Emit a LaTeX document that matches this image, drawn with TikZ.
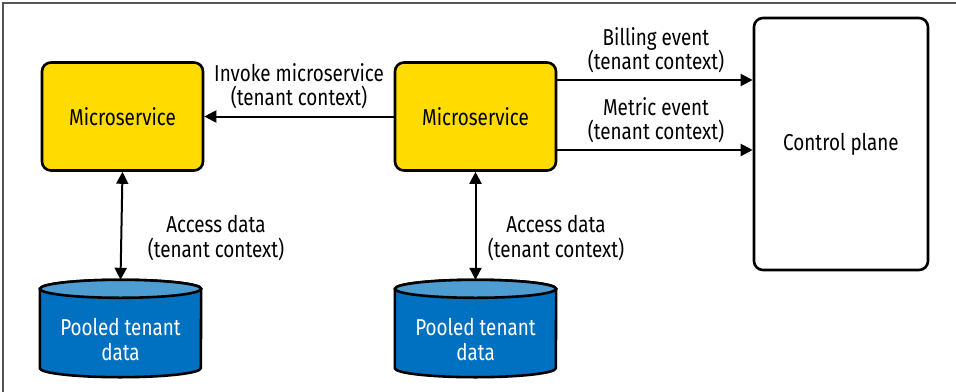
\documentclass[tikz,border=0pt]{standalone}
\usepackage{fontspec}
\setmainfont[FakeStretch=0.82]{Fira Sans}
\usetikzlibrary{arrows.meta}
\definecolor{msyellow}{HTML}{FFDB00}
\definecolor{dbblue}{HTML}{0070C0}
\definecolor{dbtop}{HTML}{4D9DD3}
\definecolor{framegray}{HTML}{555555}
\tikzset{
  every node/.style={font=\fontsize{23}{24.5}\selectfont},
  svcbox/.style={draw=black, line width=2.6pt, rounded corners=9pt, fill=msyellow,
    minimum width=161pt, minimum height=108pt, inner sep=0pt},
  ctrlbox/.style={draw=black, line width=2.6pt, rounded corners=9pt, fill=white,
    minimum width=174pt, minimum height=252pt, inner sep=0pt},
  dbslot/.style={minimum width=161pt, minimum height=97pt, inner sep=0pt},
  lbl/.style={align=center, inner sep=0pt},
  flow/.style={line width=2pt, -{Triangle[length=12pt,width=12pt]}},
  twoway/.style={line width=2pt, {Triangle[length=12pt,width=12pt]}-{Triangle[length=12pt,width=12pt]}},
}
\begin{document}
\begin{tikzpicture}[x=1pt,y=-1pt]
  \useasboundingbox (0,0) rectangle (956,391);
  % outer frame
  \draw[framegray, line width=1.2pt] (3,3) rectangle (962,398);

  % services and control plane
  \node[svcbox] (msL) at (122.5,116.5) {Microservice};
  \node[svcbox] (msR) at (475.5,116.5) {Microservice};
  \node[ctrlbox] (ctrl) at (841,144) {Control plane};

  % pooled data stores (cylinders drawn on named slots)
  \node[dbslot] (dbL) at (120.5,328.5) {};
  \node[dbslot] (dbR) at (475.5,328.5) {};
  \foreach \db in {dbL,dbR}{
    \path (\db.north west) ++(0,9) coordinate (\db-tl)
          (\db.north east) ++(0,9) coordinate (\db-tr)
          (\db.south west) ++(0,-9) coordinate (\db-bl);
    \draw[line width=2.6pt, fill=dbblue]
      (\db-tl) -- (\db-bl) arc[start angle=180, end angle=360, x radius=80.5pt, y radius=9pt]
      -- (\db-tr) arc[start angle=0, end angle=180, x radius=80.5pt, y radius=9pt] -- cycle;
    \draw[line width=2.6pt, fill=dbtop] (\db.north) ++(0,9)
      ellipse[x radius=80.5pt, y radius=9pt];
    \node[lbl, text=white] at ([yshift=-11pt]\db.center) {Pooled tenant\\data};
  }

  % connectors
  \draw[flow] (msR.west) -- (msL.east);
  \draw[flow] (msR.east |- 0,80) -- (ctrl.west |- 0,80);
  \draw[flow] (msR.east |- 0,150) -- (ctrl.west |- 0,150);
  \draw[twoway] (msL.south) -- (dbL.north);
  \draw[twoway] (msR.south) -- (dbR.north);

  % connector labels
  \node[lbl] (lInvoke) at (299,86) {Invoke microservice\\(tenant context)};
  \node[lbl] (lBill) at (656,50) {Billing event\\(tenant context)};
  \node[lbl] (lMetric) at (656,120) {Metric event\\(tenant context)};
  \node[lbl] (lAccL) at (216,238) {Access data\\(tenant context)};
  \node[lbl] (lAccR) at (556,238) {Access data\\(tenant context)};
\end{tikzpicture}
\end{document}
